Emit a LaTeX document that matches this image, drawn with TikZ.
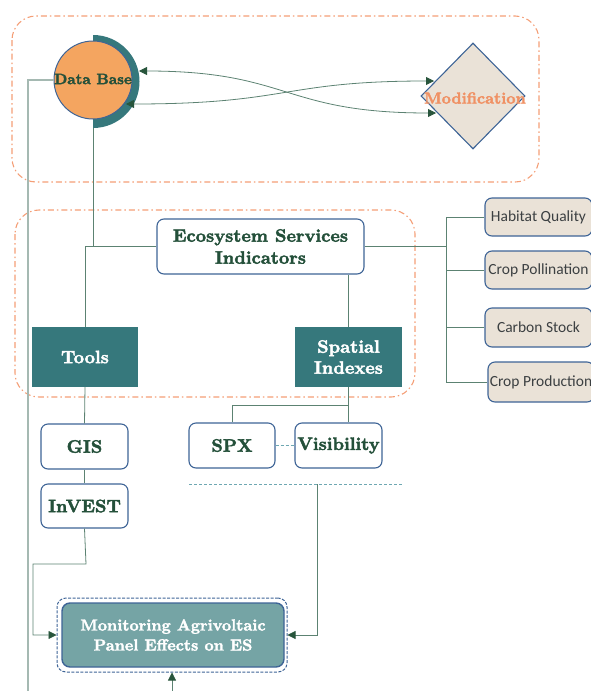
\documentclass[tikz,border=0pt]{standalone}
\usepackage{fontspec}
\newfontfamily\carl{Carlito}
\newfontfamily\heavy[FakeBold=2.2]{lmroman10-bold.otf}
\usetikzlibrary{shapes.geometric,arrows.meta,calc}
\definecolor{frameor}{RGB}{244,158,118}
\definecolor{bordblue}{RGB}{62,100,150}
\definecolor{tealA}{RGB}{54,120,124}
\definecolor{dgreen}{RGB}{36,80,58}
\definecolor{lnk}{RGB}{92,130,114}
\definecolor{arrg}{RGB}{40,85,60}
\definecolor{beigeA}{RGB}{234,226,215}
\definecolor{orangeA}{RGB}{244,165,96}
\definecolor{modor}{RGB}{240,145,100}
\definecolor{longl}{RGB}{165,185,178}
\definecolor{dashl}{RGB}{110,168,178}
\definecolor{monfill}{RGB}{117,164,165}
\definecolor{gtext}{RGB}{60,64,66}
\begin{document}
\begin{tikzpicture}[x=1pt,y=-1pt,
  frame/.style={draw=frameor, line width=1.1pt, dash pattern=on 6pt off 3pt on 1.5pt off 3pt, rounded corners=24pt},
  wbox/.style={draw=bordblue, fill=white, line width=1.1pt, rounded corners=7pt, align=center, text=dgreen, inner sep=0pt, font=\heavy\fontsize{18}{22}\selectfont},
  tbox/.style={fill=tealA, align=center, text=white, inner sep=0pt, font=\heavy\fontsize{18}{21}\selectfont},
  ibox/.style={draw=bordblue, fill=beigeA, rounded corners=7pt, line width=1.1pt, inner sep=0pt, text=gtext, font=\carl\fontsize{15.5}{18}\selectfont},
  conn/.style={draw=lnk, line width=0.8pt},
  tip/.style={-{Triangle[length=8pt,width=8pt,color=arrg]}},
  dtip/.style={{Triangle[length=8pt,width=8pt,color=arrg]}-{Triangle[length=8pt,width=8pt,color=arrg]}},
  dashline/.style={draw=dashl, line width=0.8pt, dash pattern=on 3pt off 2pt}
]
\useasboundingbox (0,0) rectangle (590,691);
% frames
\draw[frame] (12,16) rectangle (539,182);
\draw[frame] (15,210) rectangle (415,397);
% Data Base
\fill[tealA] (93,35) arc[start angle=-90,end angle=90,radius=46.5] -- cycle;
\node[circle, draw=bordblue, line width=1pt, fill=orangeA, minimum size=78pt, inner sep=0pt] (db) at (93,80) {};
\node[text=dgreen, font=\heavy\fontsize{15}{17}\selectfont, inner sep=0pt] (dbt) at (93,79) {Data Base};
\coordinate (dbb) at (93,128);
% Modification
\node[diamond, draw=bordblue, line width=1.1pt, fill=beigeA, minimum width=104pt, minimum height=106pt, inner sep=0pt] (mod) at (473,96) {};
\node[text=modor, font=\heavy\fontsize{16}{19}\selectfont, inner sep=0pt] (modt) at (475,98) {Modification};
% curves
\coordinate (dbU) at (139,71);
\coordinate (dbL) at (126,104);
\coordinate (modU) at (434,81);
\coordinate (modL) at (436,113);
\draw[conn, dtip] (dbU) .. controls (290,71) and (282,113) .. (modL);
\draw[conn, dtip] (dbL) .. controls (290,104) and (282,81) .. (modU);
% ESI
\node[wbox, minimum width=207pt, minimum height=55pt] (esi) at (260.5,246.5) {Ecosystem Services\\Indicators};
\node[tbox, minimum width=106pt, minimum height=60pt] (tools) at (85,357) {Tools};
\node[tbox, minimum width=107pt, minimum height=60pt] (sp) at (348.5,357) {Spatial\\Indexes};
% indicator boxes
\node[ibox, minimum width=107pt, minimum height=38pt] (hab) at (538.5,217) {Habitat Quality};
\node[ibox, minimum width=107pt, minimum height=38pt] (cpol) at (538.5,270) {Crop Pollination};
\node[ibox, minimum width=107pt, minimum height=39pt] (carb) at (538.5,327.5) {Carbon Stock};
\node[ibox, minimum width=106pt, minimum height=40pt] (cprod) at (541,382) {Crop Production};
% lower boxes
\node[wbox, minimum width=87pt, minimum height=45pt] (gis) at (84.5,446.5) {GIS};
\node[wbox, minimum width=87pt, minimum height=44pt] (invest) at (84.5,506) {InVEST};
\node[wbox, minimum width=86pt, minimum height=45pt] (spx) at (232,445.5) {SPX};
\node[wbox, minimum width=87pt, minimum height=45pt] (vis) at (338.5,445.5) {Visibility};
% monitoring
\node[draw=bordblue, line width=1pt, dash pattern=on 3pt off 1.5pt, rounded corners=9pt, minimum width=230pt, minimum height=74pt, inner sep=0pt] (monout) at (172,635) {};
\node[draw=bordblue, fill=monfill, line width=1.4pt, rounded corners=8pt, minimum width=222pt, minimum height=64pt, inner sep=0pt, align=center, text=white, font=\heavy\fontsize{16}{20}\selectfont] (mon) at (173,635) {Monitoring Agrivoltaic\\Panel Effects on ES};
% connectors
\coordinate (lbot) at (28,691);
\draw[draw=longl, line width=1.6pt] (db.west) -| (lbot);
\draw[conn] (dbb) -- (dbb |- esi.west);
\draw[conn] (esi.west) -| (tools.north);
\draw[conn] (sp.north) -- (sp.north |- esi.south);
\coordinate (bus) at (446,246.5);
\draw[conn] (esi.east) -- (bus);
\draw[conn] (hab.west) -| (bus);
\draw[conn] (cprod.west) -| (bus);
\draw[conn] (cpol.west) -- (cpol.west -| bus);
\draw[conn] (carb.west) -- (carb.west -| bus);
\draw[conn] (tools.south) -- (gis.north);
\draw[conn] (gis.south) -- (invest.north);
\coordinate (ivb) at (86,564);
\coordinate (ivl) at (33,564);
\draw[conn, tip] (invest.south) -- (ivb) -- (ivl) |- (monout.west);
\draw[conn] (sp.south) -- (sp.south |- vis.north);
\coordinate (spj) at (348.5,405);
\draw[conn] (spx.north) |- (spj);
\draw[dashline] (spx.east) -- (vis.west);
\coordinate (dl1) at (189,484);
\coordinate (dl2) at (402,484);
\draw[dashline] (dl1) -- (dl2);
\coordinate (dlj) at (317,484);
\draw[conn, tip] (dlj) |- (monout.east);
\coordinate (mbot) at (172,691);
\draw[conn, tip] (mbot) -- (monout.south);
\end{tikzpicture}
\end{document}
